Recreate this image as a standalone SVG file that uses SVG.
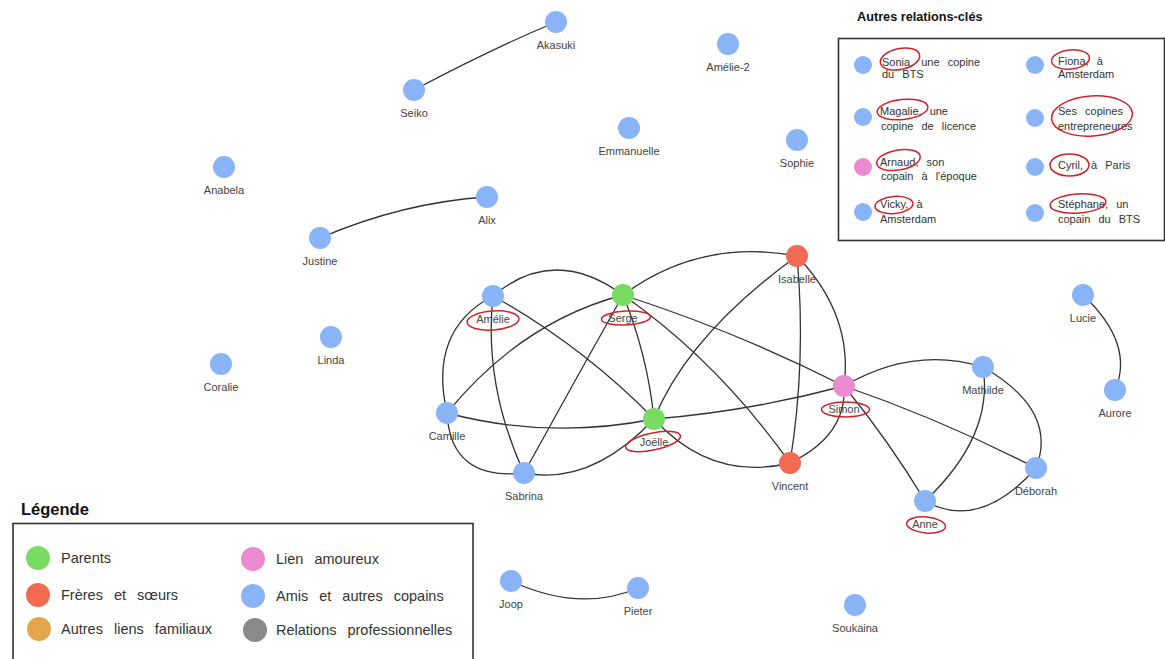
<svg xmlns="http://www.w3.org/2000/svg" width="1165" height="659" viewBox="0 0 1165 659">
<style>
.e{fill:none;stroke:#333;stroke-width:1.3}
.nb{fill:#8AB4F8}.ng{fill:#7ADB63}.nr{fill:#F26A4F}.np{fill:#EC8BD0}.no{fill:#E3A64A}.ny{fill:#8A8A8A}
.lb{font-family:"Liberation Sans",Arial,sans-serif;font-size:11px;fill:#444;text-anchor:middle}
.k{fill:none;stroke:#D0222A;stroke-width:1.5}
.bx{fill:none;stroke:#333;stroke-width:1.6}
.t{font-family:"Liberation Sans",Arial,sans-serif;font-size:11px;fill:#333;word-spacing:5px}
.lt{font-family:"Liberation Sans",Arial,sans-serif;font-size:14.5px;fill:#333;word-spacing:7px}
.h{font-family:"Liberation Sans",Arial,sans-serif;font-weight:bold;fill:#111}
</style>
<rect width="1165" height="659" fill="#fff"/>
<g id="connectors">
<path class="e" d="M414,90 Q489,50 556,22"/>
<path class="e" d="M320,238 Q402.5,202.5 487,197"/>
<path class="e" d="M511,581 Q580,613 638,588"/>
<path class="e" d="M1083,295 Q1135,344 1115,390"/>
<path class="e" d="M493,296 Q554,244.5 623,295"/>
<path class="e" d="M493,296 Q428,330 447,413"/>
<path class="e" d="M493,296 Q483.5,385 524,473"/>
<path class="e" d="M493,296 Q582.5,346 654,419"/>
<path class="e" d="M623,295 Q521,322 447,413"/>
<path class="e" d="M623,295 Q573,384 524,473"/>
<path class="e" d="M623,295 Q647.5,355 654,419"/>
<path class="e" d="M623,295 Q717.5,361 790,463"/>
<path class="e" d="M623,295 Q736.5,331.5 844,386"/>
<path class="e" d="M623,295 Q700,238 797,256"/>
<path class="e" d="M797,256 Q688.5,334.5 654,419"/>
<path class="e" d="M797,256 Q806.5,360.5 790,463"/>
<path class="e" d="M797,256 Q853.5,315 844,386"/>
<path class="e" d="M447,413 Q549.5,440 654,419"/>
<path class="e" d="M447,413 Q450.5,481 524,473"/>
<path class="e" d="M524,473 Q591,486 654,419"/>
<path class="e" d="M654,419 Q749,411.5 844,386"/>
<path class="e" d="M654,419 Q712,482 790,463"/>
<path class="e" d="M790,463 Q847,435.5 844,386"/>
<path class="e" d="M844,386 Q913.5,345.5 983,367"/>
<path class="e" d="M844,386 Q940,419 1036,468"/>
<path class="e" d="M844,386 Q889,441 925,501"/>
<path class="e" d="M983,367 Q994,436 925,501"/>
<path class="e" d="M983,367 Q1058.5,410.5 1036,468"/>
<path class="e" d="M925,501 Q979.5,531.5 1036,468"/>
</g>
<g id="n-akasuki"><circle class="nb" cx="556" cy="22" r="11"/><text class="lb" x="556" y="49">Akasuki</text></g>
<g id="n-seiko"><circle class="nb" cx="414" cy="90" r="11"/><text class="lb" x="414" y="117">Seiko</text></g>
<g id="n-amelie2"><circle class="nb" cx="728" cy="44" r="11"/><text class="lb" x="728" y="71">Amélie-2</text></g>
<g id="n-emmanuelle"><circle class="nb" cx="629" cy="128" r="11"/><text class="lb" x="629" y="155">Emmanuelle</text></g>
<g id="n-sophie"><circle class="nb" cx="797" cy="140" r="11"/><text class="lb" x="797" y="167">Sophie</text></g>
<g id="n-anabela"><circle class="nb" cx="224" cy="167" r="11"/><text class="lb" x="224" y="194">Anabela</text></g>
<g id="n-alix"><circle class="nb" cx="487" cy="197" r="11"/><text class="lb" x="487" y="224">Alix</text></g>
<g id="n-justine"><circle class="nb" cx="320" cy="238" r="11"/><text class="lb" x="320" y="265">Justine</text></g>
<g id="n-linda"><circle class="nb" cx="331" cy="337" r="11"/><text class="lb" x="331" y="364">Linda</text></g>
<g id="n-coralie"><circle class="nb" cx="221" cy="364" r="11"/><text class="lb" x="221" y="391">Coralie</text></g>
<g id="n-amelie"><circle class="nb" cx="493" cy="296" r="11"/><text class="lb" x="493" y="323">Amélie</text><ellipse class="k" cx="493" cy="320.5" rx="26" ry="9.5" transform="rotate(-4 493 320.5)"/></g>
<g id="n-serge"><circle class="ng" cx="623" cy="295" r="11"/><text class="lb" x="623" y="322">Serge</text><ellipse class="k" cx="626" cy="318" rx="24.5" ry="7" transform="rotate(-3 626 318)"/></g>
<g id="n-isabelle"><circle class="nr" cx="797" cy="256" r="11"/><text class="lb" x="797" y="283">Isabelle</text></g>
<g id="n-lucie"><circle class="nb" cx="1083" cy="295" r="11"/><text class="lb" x="1083" y="322">Lucie</text></g>
<g id="n-simon"><circle class="np" cx="844" cy="386" r="11"/><text class="lb" x="844" y="413">Simon</text><ellipse class="k" cx="845.5" cy="409.5" rx="24" ry="7.5"/></g>
<g id="n-mathilde"><circle class="nb" cx="983" cy="367" r="11"/><text class="lb" x="983" y="394">Mathilde</text></g>
<g id="n-aurore"><circle class="nb" cx="1115" cy="390" r="11"/><text class="lb" x="1115" y="417">Aurore</text></g>
<g id="n-camille"><circle class="nb" cx="447" cy="413" r="11"/><text class="lb" x="447" y="440">Camille</text></g>
<g id="n-joelle"><circle class="ng" cx="654" cy="419" r="11"/><text class="lb" x="654" y="446">Joëlle</text><ellipse class="k" cx="653" cy="441.5" rx="28" ry="8.5" transform="rotate(-12 653 441.5)"/></g>
<g id="n-sabrina"><circle class="nb" cx="524" cy="473" r="11"/><text class="lb" x="524" y="500">Sabrina</text></g>
<g id="n-vincent"><circle class="nr" cx="790" cy="463" r="11"/><text class="lb" x="790" y="490">Vincent</text></g>
<g id="n-deborah"><circle class="nb" cx="1036" cy="468" r="11"/><text class="lb" x="1036" y="495">Déborah</text></g>
<g id="n-anne"><circle class="nb" cx="925" cy="501" r="11"/><text class="lb" x="925" y="528">Anne</text><ellipse class="k" cx="926" cy="525" rx="19.5" ry="8" transform="rotate(5 926 525)"/></g>
<g id="n-joop"><circle class="nb" cx="511" cy="581" r="11"/><text class="lb" x="511" y="608">Joop</text></g>
<g id="n-pieter"><circle class="nb" cx="638" cy="588" r="11"/><text class="lb" x="638" y="615">Pieter</text></g>
<g id="n-soukaina"><circle class="nb" cx="855" cy="605" r="11"/><text class="lb" x="855" y="632">Soukaina</text></g>
<g id="autres-relations">
<text class="h" x="857" y="21" font-size="12.7">Autres relations-clés</text>
<rect class="bx" x="838.5" y="38.5" width="326" height="202"/>
<circle class="nb" cx="863" cy="65" r="9"/>
<text class="t" x="882" y="66">Sonia, une copine</text><text class="t" x="882" y="78">du BTS</text>
<ellipse class="k" cx="900" cy="59" rx="20" ry="10.5" transform="rotate(-12 900 59)"/>
<circle class="nb" cx="863" cy="117" r="9"/>
<text class="t" x="880" y="115">Magalie, une</text><text class="t" x="881" y="130">copine de licence</text>
<ellipse class="k" cx="902.5" cy="109.5" rx="25.5" ry="10" transform="rotate(-6 902.5 109.5)"/>
<circle class="np" cx="863" cy="167" r="9"/>
<text class="t" x="880" y="165.5">Arnaud, son</text><text class="t" x="881" y="180">copain à l'époque</text>
<ellipse class="k" cx="898.5" cy="160" rx="22" ry="10" transform="rotate(-10 898.5 160)"/>
<circle class="nb" cx="863" cy="212" r="9"/>
<text class="t" x="880" y="208">Vicky, à</text><text class="t" x="880" y="222.5">Amsterdam</text>
<ellipse class="k" cx="894" cy="205" rx="19" ry="8.5" transform="rotate(-5 894 205)"/>
<circle class="nb" cx="1035" cy="65" r="9"/>
<text class="t" x="1058" y="65">Fiona, à</text><text class="t" x="1058" y="77.5">Amsterdam</text>
<ellipse class="k" cx="1070.5" cy="59.5" rx="19" ry="9.5" transform="rotate(-6 1070.5 59.5)"/>
<circle class="nb" cx="1035" cy="118" r="9"/>
<text class="t" x="1058" y="115">Ses copines</text><text class="t" x="1058" y="130" style="word-spacing:0">entrepreneures</text>
<ellipse class="k" cx="1092" cy="116" rx="40.5" ry="20" transform="rotate(-4 1092 116)"/>
<circle class="nb" cx="1035" cy="167" r="9"/>
<text class="t" x="1058" y="168.5">Cyril, à Paris</text>
<ellipse class="k" cx="1069.5" cy="165" rx="19.5" ry="11"/>
<circle class="nb" cx="1035" cy="213" r="9"/>
<text class="t" x="1058" y="208">Stéphane, un</text><text class="t" x="1058" y="222.5">copain du BTS</text>
<ellipse class="k" cx="1078" cy="203.5" rx="28" ry="9.5" transform="rotate(-4 1078 203.5)"/>
</g>
<g id="legende">
<text class="h" x="21" y="515" font-size="16.5">Légende</text>
<rect class="bx" x="13" y="523.5" width="460" height="150"/>
<circle class="ng" cx="38" cy="558" r="12"/><text class="lt" x="61" y="563">Parents</text>
<circle class="nr" cx="38" cy="595" r="12"/><text class="lt" x="61" y="600">Frères et sœurs</text>
<circle class="no" cx="39" cy="629" r="12"/><text class="lt" x="61" y="634">Autres liens familiaux</text>
<circle class="np" cx="253" cy="559" r="12"/><text class="lt" x="276" y="564">Lien amoureux</text>
<circle class="nb" cx="253" cy="596" r="12"/><text class="lt" x="276" y="600.5">Amis et autres copains</text>
<circle class="ny" cx="255" cy="630" r="12"/><text class="lt" x="276" y="635">Relations professionnelles</text>
</g>
</svg>
